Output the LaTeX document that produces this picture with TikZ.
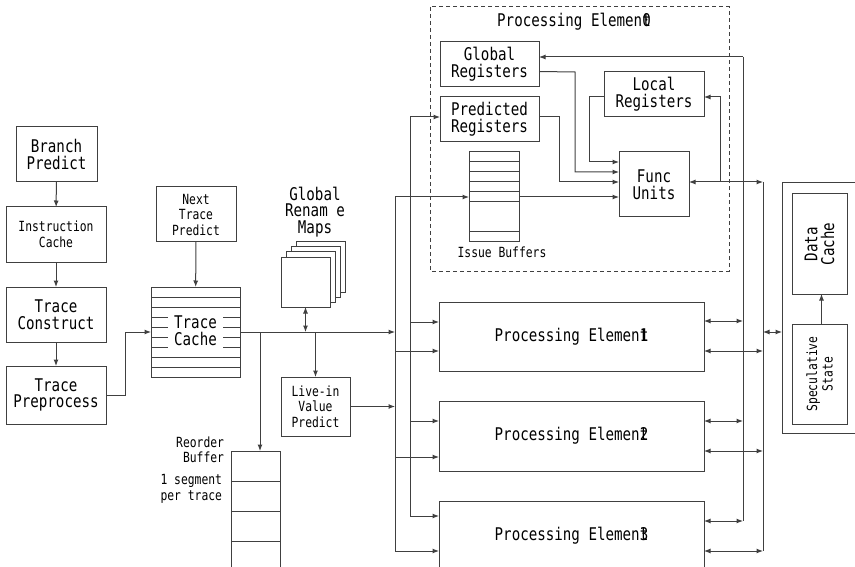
\documentclass[tikz,border=0pt]{standalone}
\usepackage{fontspec}
\setmainfont{DejaVu Sans Mono}[FakeStretch=0.81]
\usetikzlibrary{arrows.meta,calc}
\begin{document}
\begin{tikzpicture}[x=1pt,y=-1pt,
  every node/.style={inner sep=0pt, outer sep=0pt},
  ln/.style={draw=black!75, line width=1pt},
  box/.style={ln, fill=white, align=center},
  arr/.style={ln, -{Latex[length=6.5pt,width=5pt]}},
  darr/.style={ln, {Latex[length=6.5pt,width=5pt]}-{Latex[length=6.5pt,width=5pt]}},
  bigt/.style={font=\fontsize{17.5}{16.7}\selectfont},
  smallt/.style={font=\fontsize{14}{15.5}\selectfont},
  pedash/.style={draw=black!75, line width=1pt, dash pattern=on 4pt off 3pt}
]
\useasboundingbox (0,0) rectangle (855,567);
\clip (0,0) rectangle (855,567);

% ---- left column ----
\node[box,bigt,minimum width=81pt,minimum height=55pt] (bp) at (56.5,154.5) {Branch\\Predict};
\node[box,smallt,minimum width=100pt,minimum height=55pt] (ic) at (56,234.5) {Instruction\\Cache};
\node[box,bigt,minimum width=100pt,minimum height=55pt] (tcn) at (56,314.5) {Trace\\Construct};
\node[box,bigt,minimum width=100pt,minimum height=58pt] (tp) at (56,395) {Trace\\Preprocess};
\draw[arr] (bp) -- (ic);
\draw[arr] (ic) -- (tcn);
\draw[arr] (tcn) -- (tp);

% ---- trace cache ----
\node[box,smallt,minimum width=80pt,minimum height=55pt] (ntp) at (196,214.5) {Next\\Trace\\Predict};
\node[box,minimum width=89pt,minimum height=90pt] (tc) at (195.5,332) {};
\foreach \y in {297,307,...,367} \draw[ln] (151,\y) -- (240,\y);
\node[bigt,fill=white,minimum width=55pt,minimum height=38pt,align=center] (tcl) at (195.5,331) {Trace\\Cache};
\draw[arr] (ntp) -- (tc);
\draw[arr] (tp.east) -- ++(19,0) |- (tc.west);

% ---- global rename maps ----
\node[bigt,align=center] (gml) at (315,212) {Global\\Renam e\\Maps};
\foreach \i in {3,2,1} \draw[ln,fill=white] ({281+5*\i},{257-5*\i}) rectangle ++(49,50);
\node[box,minimum width=49pt,minimum height=50pt] (gm) at (305.5,282) {};

% ---- live-in and reorder ----
\node[box,smallt,minimum width=69pt,minimum height=59pt] (lvp) at (315.5,406.5) {Live-in\\Value\\Predict};
\draw[ln] (231,600) -- (231,451) -- (280,451) -- (280,600);
\foreach \y in {481,511,541} \draw[ln] (231,\y) -- (280,\y);
\coordinate (robin) at (260,451);
\node[smallt,align=right,anchor=east] (robl) at (224,450) {Reorder\\Buffer};
\node[smallt,align=right,anchor=east] (segl) at (222,489) {1 segment\\per trace};

% ---- buses ----
\coordinate (busAtop) at (395,197);
\coordinate (busAbot) at (395,551);
\coordinate (busBtop) at (410,117);
\coordinate (busBbot) at (410,516);
\draw[ln] (busAtop) -- (busAbot);
\draw[ln] (busBtop) -- (busBbot);

\draw[arr] (tc.east) -- (tc.east -| busAtop);
\draw[arr] (tc.east -| robin) -- (robin);
\draw[darr] (gm.south) -- (gm.south |- tc.east);
\draw[arr] (lvp.north |- tc.east) -- (lvp.north);
\draw[arr] (lvp.east) -- (lvp.east -| busAtop);

% ---- PE0 ----
\draw[pedash] (430,7) rectangle (729,271);
\node[bigt] (pe0t) at (574,22) {Processing Elemen\rlap{t}0};
\node[box,bigt,minimum width=99pt,minimum height=45pt] (gr) at (489.5,64.5) {Global\\Registers};
\node[box,bigt,minimum width=99pt,minimum height=45pt] (pr) at (489.5,119.5) {Predicted\\Registers};
\node[box,bigt,minimum width=100pt,minimum height=45pt] (lr) at (654,94.5) {Local\\Registers};
\node[box,bigt,minimum width=70pt,minimum height=65pt] (fu) at (654,184.5) {Func\\Units};
\node[box,minimum width=50pt,minimum height=90pt] (ib) at (494,197) {};
\foreach \y in {162,172,182,192,202,232} \draw[ln] (469,\y) -- (519,\y);
\node[smallt] (ibl) at (502,252) {Issue Buffers};

\draw[arr] (busAtop) -- (ib.west);
\draw[arr] (busBtop) -- (busBtop -| pr.west);

\coordinate (f1) at (619,162);
\coordinate (f2) at (619,172);
\coordinate (f3) at (619,182);
\coordinate (f4) at (619,197);
\draw[arr] ($(lr.west)+(0,2.5)$) -- (589,97) |- (f1);
\draw[arr] ($(gr.east)+(0,7)$) -- (575,72) |- (f2);
\draw[arr] ($(pr.east)+(0,-2.5)$) -- (559,117) |- (f3);
\draw[arr] (ib.east |- f4) -- (f4);

% ---- right buses ----
\coordinate (busCtop) at (743,57);
\coordinate (busCbot) at (743,521);
\coordinate (busDtop) at (763,182);
\coordinate (busDbot) at (763,551);
\draw[ln] (busCtop) -- (busCbot);
\draw[ln] (busDtop) -- (busDbot);
\draw[arr] (busCtop) -- (busCtop -| gr.east);
\coordinate (fuo) at (689,182);
\draw[darr] (fuo) -- (busDtop);
\draw[arr] (720,182) -- (720,97) -- ($(lr.east)+(0,2.5)$);

% ---- PE1..3 ----
\node[box,bigt,minimum width=265pt,minimum height=69pt] (pe1) at (571.5,336.5) {Processing Elemen\rlap{t}1};
\node[box,bigt,minimum width=265pt,minimum height=70pt] (pe2) at (571.5,436) {Processing Elemen\rlap{t}2};
\node[box,minimum width=265pt,minimum height=130pt] (pe3) at (571.5,566) {};
\node[bigt] (pe3t) at (571.5,536) {Processing Elemen\rlap{t}3};

\foreach \p/\ua/\la/\ur/\lr in {pe1/322/351/321/351, pe2/421/457/421/451, pe3/516/551/521/551} {
  \coordinate (ta) at (410,\ua);
  \coordinate (tb) at (395,\la);
  \coordinate (tc2) at (743,\ur);
  \coordinate (td) at (763,\lr);
  \draw[arr] (ta) -- (ta -| \p.west);
  \draw[arr] (tb) -- (tb -| \p.west);
  \draw[darr] (tc2 -| \p.east) -- (tc2);
  \draw[darr] (td -| \p.east) -- (td);
}

% ---- storage ----
\draw[ln] (900,183) -- (782,183) -- (782,433) -- (900,433);
\coordinate (stl) at (782,332);
\draw[darr] (stl -| busDtop) -- (stl);
\node[box,bigt,minimum width=55pt,minimum height=100pt] (dc) at (819.5,244) {};
\node[bigt,rotate=90,align=center] (dct) at (819.5,244) {Data\\Cache};
\node[box,minimum width=55pt,minimum height=100pt] (ss) at (819.5,374) {};
\node[smallt,rotate=90,align=center] (sst) at (819.5,374) {Speculative\\State};
\draw[arr] (ss.north -| 821.5,0) -- (dc.south -| 821.5,0);
\end{tikzpicture}
\end{document}
